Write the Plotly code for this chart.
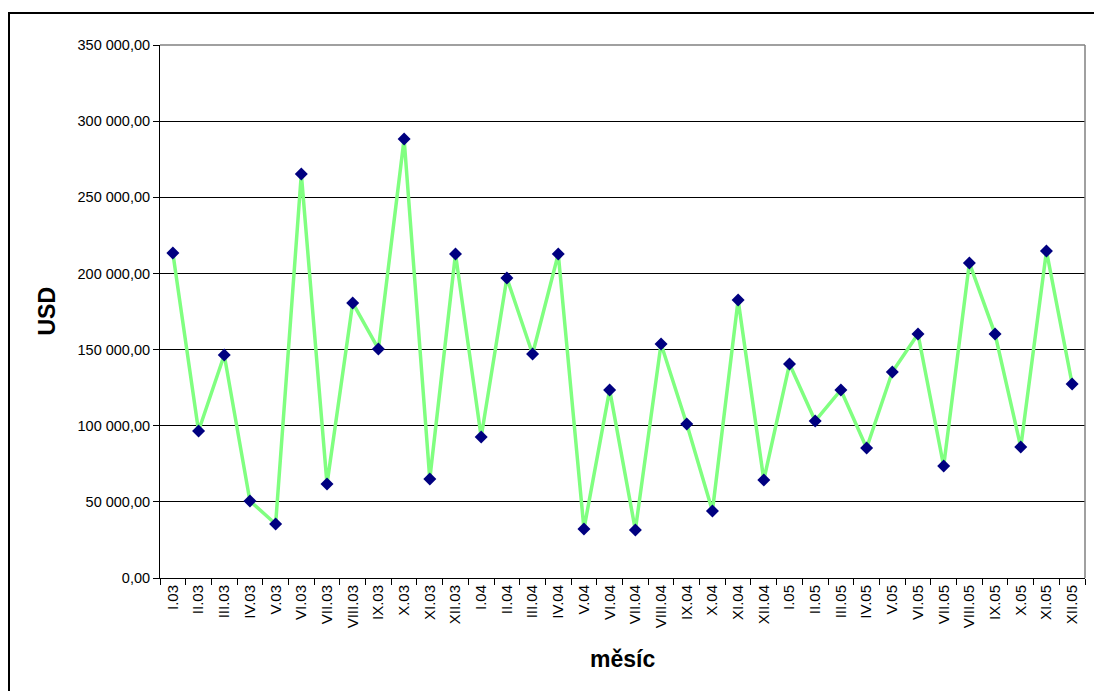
import plotly.graph_objects as go

months = ["I.03","II.03","III.03","IV.03","V.03","VI.03","VII.03","VIII.03","IX.03","X.03","XI.03","XII.03",
          "I.04","II.04","III.04","IV.04","V.04","VI.04","VII.04","VIII.04","IX.04","X.04","XI.04","XII.04",
          "I.05","II.05","III.05","IV.05","V.05","VI.05","VII.05","VIII.05","IX.05","X.05","XI.05","XII.05"]
usd = [213400, 96500, 146400, 50600, 35500, 265300, 61700, 180600, 150400, 288300, 65000, 212800,
       92600, 197000, 147100, 212800, 32200, 123500, 31500, 153700, 101100, 44000, 182600, 64400,
       140500, 103100, 123500, 85400, 135300, 160200, 73500, 206900, 160200, 86000, 214700, 127400]
y_ticks = [0, 50000, 100000, 150000, 200000, 250000, 300000, 350000]
x_title = "měsíc"
y_title = "USD"

fig = go.Figure()
fig.add_trace(go.Scatter(
    x=months, y=usd, mode="lines+markers",
    line=dict(color="#80FF80", width=3.5),
    marker=dict(symbol="diamond", size=10, color="#000080"),
    showlegend=False,
))

L, R, T, B = 160, 1085, 45, 578
W, H = 1094, 691
PW, PH = R - L, B - T
fig.update_layout(
    width=W, height=H,
    margin=dict(l=L, r=W - R, t=T, b=H - B, pad=0),
    paper_bgcolor="white", plot_bgcolor="white",
    separators=", ",
    font=dict(family="Liberation Sans, Arial", color="black"),
    xaxis=dict(
        type="category", range=[-0.5, 35.5],
        tickangle=-90, tickfont=dict(size=15),
        ticks="outside", ticklen=6, tickcolor="black", tickson="boundaries",
        showline=True, linecolor="black", linewidth=1,
        showgrid=False, mirror=False,
    ),
    yaxis=dict(
        range=[0, 350000], tickvals=y_ticks, tickformat=",.2f",
        tickfont=dict(size=14.5),
        ticks="outside", ticklen=6, tickcolor="black",
        showline=True, linecolor="black", linewidth=1,
        showgrid=True, gridcolor="black", gridwidth=1,
        zeroline=False,
    ),
    annotations=[
        dict(text="<b>" + x_title + "</b>", xref="paper", yref="paper",
             x=0.5, y=(B - 659) / PH, xanchor="center", yanchor="middle",
             showarrow=False, font=dict(size=23)),
        dict(text="<b>" + y_title + "</b>", xref="paper", yref="paper",
             x=(46 - L) / PW, y=0.5, xanchor="center", yanchor="middle",
             textangle=-90, showarrow=False, font=dict(size=23)),
    ],
    shapes=[
        dict(type="line", xref="paper", yref="paper", x0=0, x1=1, y0=1, y1=1,
             line=dict(color="#808080", width=1.5)),
        dict(type="line", xref="paper", yref="paper", x0=1, x1=1, y0=0, y1=1,
             line=dict(color="#808080", width=1.5)),
        dict(type="rect", xref="paper", yref="paper",
             x0=(9 - L) / PW, x1=1.2, y0=-0.5, y1=(B - 13) / PH,
             line=dict(color="black", width=2), fillcolor="rgba(0,0,0,0)", layer="above"),
    ],
)
fig.write_html("out.html", config={"displayModeBar": False},
               post_script="document.body.style.margin='0px';document.body.style.overflow='hidden';")
